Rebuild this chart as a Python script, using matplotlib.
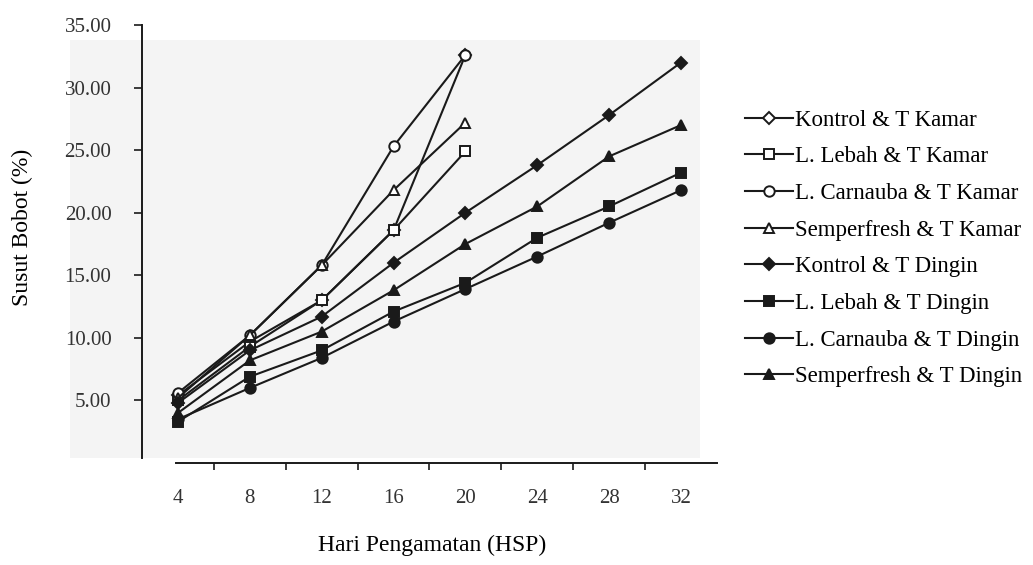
import matplotlib
matplotlib.use('Agg')
import matplotlib.pyplot as plt
from matplotlib.patches import Rectangle

plt.rcParams['font.family'] = ['Liberation Serif', 'DejaVu Serif']

# Days of observation
days_kamar = [4, 8, 12, 16, 20]
days_dingin = [4, 8, 12, 16, 20, 24, 28, 32]

# Weight loss (%), room temperature
kontrol_kamar = [5.4, 9.7, 13.0, 18.6, 32.6]
lebah_kamar = [5.0, 9.3, 13.0, 18.6, 24.9]
carnauba_kamar = [5.6, 10.2, 15.8, 25.3, 32.6]
semper_kamar = [5.2, 10.2, 15.8, 21.8, 27.2]

# Weight loss (%), cold temperature
kontrol_dingin = [4.8, 9.0, 11.7, 16.0, 20.0, 23.8, 27.8, 32.0]
lebah_dingin = [3.3, 6.9, 9.0, 12.1, 14.4, 18.0, 20.5, 23.2]
carnauba_dingin = [3.5, 6.0, 8.4, 11.3, 13.9, 16.5, 19.2, 21.8]
semper_dingin = [4.0, 8.2, 10.5, 13.8, 17.5, 20.5, 24.5, 27.0]

x_labels = ['4', '8', '12', '16', '20', '24', '28', '32']
y_ticks = [5, 10, 15, 20, 25, 30, 35]

fig = plt.figure(figsize=(10.33, 5.65), dpi=100)
# faint grey of the scanned page behind the plot
fig.patches.append(Rectangle((0.068, 0.19), 0.61, 0.74, transform=fig.transFigure,
                             facecolor='#f4f4f4', edgecolor='none', zorder=-5))
ax = fig.add_axes([0.1375, 0.1805, 0.5565, 0.7753])
ax.set_zorder(2)
ax.patch.set_alpha(0)

c = '#1a1a1a'
lw = 1.5
ms = 7.5
series = [
    (days_kamar, kontrol_kamar, 'D', 'white', 'Kontrol & T Kamar', 6),
    (days_kamar, lebah_kamar, 's', 'white', 'L. Lebah & T Kamar', ms),
    (days_kamar, carnauba_kamar, 'o', 'white', 'L. Carnauba & T Kamar', ms),
    (days_kamar, semper_kamar, '^', 'white', 'Semperfresh & T Kamar', ms),
    (days_dingin, kontrol_dingin, 'D', c, 'Kontrol & T Dingin', 6),
    (days_dingin, lebah_dingin, 's', c, 'L. Lebah & T Dingin', ms),
    (days_dingin, carnauba_dingin, 'o', c, 'L. Carnauba & T Dingin', ms),
    (days_dingin, semper_dingin, '^', c, 'Semperfresh & T Dingin', ms),
]
for xs, ys, m, fc, lab, size in series:
    ax.plot(xs, ys, color=c, lw=lw, marker=m, markersize=size,
            markerfacecolor=fc, markeredgecolor=c, markeredgewidth=1.4, label=lab)

ax.set_xlim(2, 34)
ax.set_ylim(0, 35)

# category style axis: labels at points, tick marks between them
ax.set_xticks(days_dingin)
ax.set_xticklabels(x_labels)
ax.set_xticks([6, 10, 14, 18, 22, 26, 30], minor=True)
ax.tick_params(axis='x', which='major', length=0, pad=19, labelsize=15, labelcolor='#333333')
ax.tick_params(axis='x', which='minor', length=5, width=1.2, direction='out', color=c)

ax.set_yticks(y_ticks)
ax.set_yticklabels([f'{v:.2f}' for v in y_ticks])
ax.tick_params(axis='y', length=6, width=1.2, direction='out', pad=16,
               labelsize=15, labelcolor='#333333', color=c)

for s in ['top', 'right']:
    ax.spines[s].set_visible(False)
ax.spines['left'].set_linewidth(1.4)
ax.spines['bottom'].set_linewidth(1.4)
ax.spines['left'].set_color(c)
ax.spines['bottom'].set_color(c)
ax.spines['bottom'].set_bounds(3.9, 34)
ax.spines['left'].set_bounds(0.4, 35)

fig.text(0.418, 0.035, 'Hari Pengamatan (HSP)', ha='center', va='center', fontsize=17)
fig.text(0.022, 0.597, 'Susut Bobot (%)', ha='center', va='center', rotation=90, fontsize=17)

fig.legend(loc='upper left', bbox_to_anchor=(0.712, 0.822), frameon=False,
           fontsize=16.5, handlelength=2.1, handletextpad=0.1, labelspacing=0.68,
           borderaxespad=0)

fig.savefig('out.png', dpi=100)
